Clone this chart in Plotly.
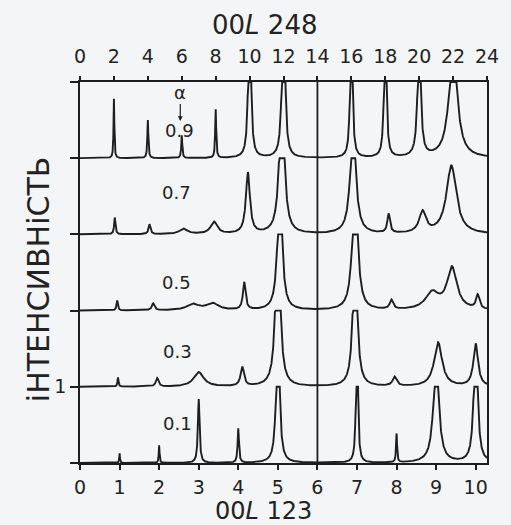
import numpy as np
import plotly.graph_objects as go

# ---------------- data ----------------
L248_TOP = 24                     # top axis runs 0..24 in 00L 248
L123_TOP = L248_TOP * 6 / 14      # same span in 00L 123 units (14 <-> 6)
bottom_ticks = list(range(0, 11))
top_ticks = list(range(0, 25, 2))
y_ticks = [0, 1, 2, 3, 4, 5]
y_ticktext = ["", "1", "", "", "", ""]

alphas = ["0.1", "0.3", "0.5", "0.7", "0.9"]
offsets = [0, 1, 2, 3, 4]
clip_height = 1.0

# peaks: position (00L 123), amplitude, half-width
pos_01 = [1.0, 2.0, 3.0, 4.0, 5.0, 7.0, 8.0, 9.0, 10.0]
amp_01 = [0.13, 0.23, 0.84, 0.45, 2.5, 3.0, 0.38, 1.4, 2.0]
wid_01 = [0.010, 0.012, 0.025, 0.020, 0.040, 0.020, 0.015, 0.080, 0.050]

pos_03 = [0.96, 1.95, 3.0, 4.1, 5.0, 6.95, 7.95, 9.05, 10.0]
amp_03 = [0.12, 0.11, 0.19, 0.25, 2.5, 2.0, 0.12, 0.58, 0.56]
wid_03 = [0.015, 0.040, 0.150, 0.050, 0.060, 0.060, 0.060, 0.120, 0.070]

pos_05 = [0.94, 1.85, 2.85, 3.35, 4.15, 5.05, 6.95, 7.87, 8.9, 9.4, 10.05]
amp_05 = [0.13, 0.09, 0.08, 0.09, 0.36, 2.0, 2.0, 0.12, 0.22, 0.55, 0.18]
wid_05 = [0.020, 0.040, 0.180, 0.180, 0.040, 0.060, 0.070, 0.050, 0.200, 0.150, 0.050]

pos_07_248 = [2.05, 4.1, 6.1, 7.9, 9.9, 11.9, 16.1, 18.2, 20.2, 21.9]
amp_07 = [0.22, 0.13, 0.07, 0.16, 0.80, 2.0, 1.5, 0.25, 0.28, 0.90]
wid_07 = [0.020, 0.030, 0.120, 0.100, 0.060, 0.070, 0.080, 0.040, 0.100, 0.150]

pos_09_248 = [2, 4, 6, 8, 10, 12, 16, 18, 20, 22]
amp_09 = [0.78, 0.50, 0.30, 0.64, 3.0, 3.0, 3.0, 3.0, 2.0, 1.5]
wid_09 = [0.012, 0.015, 0.015, 0.015, 0.030, 0.035, 0.025, 0.025, 0.040, 0.120]

common_line_L123 = 6              # line through all patterns (00L 123 = 6, 00L 248 = 14)

to123 = 6 / 14
peak_sets = [
    (pos_01, amp_01, wid_01),
    (pos_03, amp_03, wid_03),
    (pos_05, amp_05, wid_05),
    ([p * to123 for p in pos_07_248], amp_07, wid_07),
    ([p * to123 for p in pos_09_248], amp_09, wid_09),
]

# ---------------- figure ----------------
x = np.linspace(0, L123_TOP, 3000)
fig = go.Figure()
LINE = "#1e1e1e"
TXT = "#222222"

for (pos, amp, wid), off in zip(peak_sets, offsets):
    inten = np.zeros_like(x)
    for p, a, w in zip(pos, amp, wid):
        inten += a / (1 + ((x - p) / w) ** 2)
    y = off + np.minimum(inten, clip_height)
    fig.add_trace(go.Scatter(x=x, y=y, mode="lines",
                             line=dict(color=LINE, width=1.9),
                             showlegend=False, hoverinfo="skip"))

fig.add_trace(go.Scatter(x=[common_line_L123, common_line_L123], y=[0, 5],
                         mode="lines", line=dict(color=LINE, width=1.8),
                         showlegend=False, hoverinfo="skip"))
# invisible trace on top axis
fig.add_trace(go.Scatter(x=[0, L248_TOP], y=[0, 0], xaxis="x2", mode="lines",
                         line=dict(width=0), showlegend=False, hoverinfo="skip"))

FONT = "DejaVu Sans, Arial, sans-serif"
BG = "#f4f5f7"
tickfont = dict(size=19, family=FONT, color=TXT)

fig.update_layout(
    width=511, height=525,
    margin=dict(l=80, r=13, t=82, b=62),
    paper_bgcolor=BG, plot_bgcolor=BG,
    font=dict(family=FONT, color=TXT),
    xaxis=dict(range=[0, L123_TOP], tickvals=bottom_ticks, showgrid=False,
               zeroline=False, showline=True, linecolor=LINE, linewidth=1.5,
               ticks="outside", ticklen=5, tickwidth=1.5, tickcolor=LINE,
               ticklabelstandoff=1, tickfont=tickfont),
    xaxis2=dict(range=[0, L248_TOP], tickvals=top_ticks, overlaying="x", side="top",
                showgrid=False, zeroline=False, showline=True, linecolor=LINE,
                linewidth=1.5, ticks="outside", ticklen=4, tickwidth=1.5,
                tickcolor=LINE, ticklabelstandoff=6, tickfont=tickfont),
    yaxis=dict(range=[0, 5], tickvals=y_ticks, ticktext=y_ticktext, showgrid=False,
               zeroline=False, showline=True, mirror=True, linecolor=LINE, linewidth=1.5,
               ticks="outside", ticklen=8, tickwidth=1.5, tickcolor=LINE,
               tickfont=tickfont),
)

def px2x(px):
    return (px - 80) / 418 * L123_TOP

def py2y(py):
    return (463 - py) / 381 * 5

def paper(px, py):
    return (px - 80) / 418, (463 - py) / 381

annots = []
label_px = [(180, 423), (180, 351), (179, 282), (179, 192), (182, 130)]
for a, (lx, ly) in zip(alphas, label_px):
    annots.append(dict(x=px2x(lx), y=py2y(ly), xref="x", yref="y", text=a,
                       xanchor="center", yanchor="middle", showarrow=False,
                       font=dict(size=18, family=FONT, color=TXT)))
# alpha marker with arrow
annots.append(dict(x=px2x(183), y=py2y(121), xref="x", yref="y", text="α",
                   showarrow=True, ax=0, ay=-29, arrowhead=2, arrowsize=0.8,
                   arrowwidth=1.2, arrowcolor=LINE, standoff=0,
                   font=dict(size=18, family=FONT, color=TXT)))
tx, ty = paper(269, 25)
annots.append(dict(x=tx, y=ty, xref="paper", yref="paper", xanchor="center",
                   yanchor="middle", text="00<i>L</i> 248", showarrow=False,
                   font=dict(size=26, family=FONT, color=TXT)))
bx, by = paper(268, 511)
annots.append(dict(x=bx, y=by, xref="paper", yref="paper", xanchor="center",
                   yanchor="middle", text="00<i>L</i> 123", showarrow=False,
                   font=dict(size=24, family=FONT, color=TXT)))
lx, ly = paper(37, 280)
annots.append(dict(x=lx, y=ly, xref="paper", yref="paper", xanchor="center",
                   yanchor="middle", text="іНТЕНСИВНіСТЬ", textangle=-90,
                   showarrow=False, font=dict(size=30, family=FONT, color=TXT)))
fig.update_layout(annotations=annots)

fig.write_html("out.html")
